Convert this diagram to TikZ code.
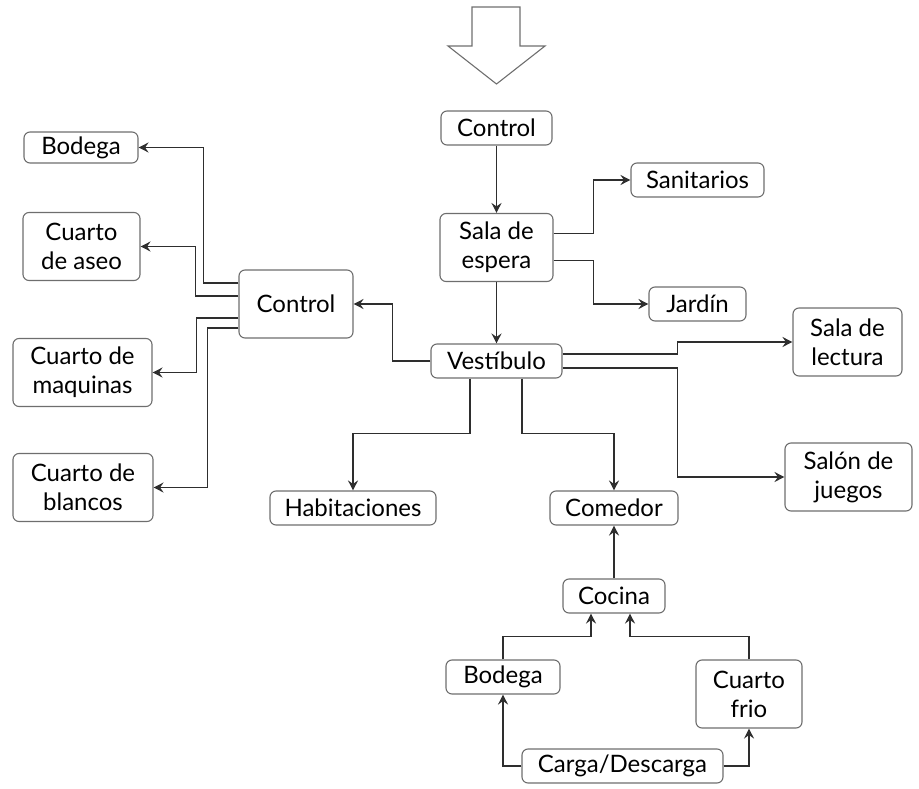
\documentclass[tikz,border=0pt]{standalone}
\usepackage{fontspec}
\setmainfont{Lato}
\usetikzlibrary{arrows.meta, positioning}
\definecolor{boxgray}{HTML}{6E6E6E}
\definecolor{linegray}{HTML}{2E2E2E}
\tikzstyle{room} = [
    rectangle,
    rounded corners=6pt,
    minimum height=34pt,
    inner sep=0pt,
    align=center,
    draw=boxgray,
    line width=1.1pt,
    fill=white,
    font=\fontsize{24}{29}\selectfont
]
\tikzstyle{tall} = [minimum height=68pt]
\tikzstyle{arrow} = [line width=1.5pt, draw=linegray, ->, >={Stealth[length=10pt,width=10pt,inset=3.5pt]}]

\begin{document}
\begin{tikzpicture}[x=1pt, y=-1pt]
\useasboundingbox (0,0) rectangle (919,789);

% Entrance arrow
\draw [boxgray, line width=1.1pt, line join=miter]
    (472,7) -- (520,7) -- (520,46) -- (545,46) -- (496.5,84)
    -- (448,46) -- (472,46) -- cycle;

% Nodes
\node (ctrltop) [room, minimum width=111pt] at (496.5,128) {Control};
\node (espera) [room, tall, minimum width=113pt] at (496.5,247.5) {Sala de\\espera};
\node (sanitarios) [room, minimum width=133pt] at (697.5,180) {Sanitarios};
\node (jardin) [room, minimum width=97pt] at (697.5,304) {Jardín};
\node (vestibulo) [room, minimum width=131pt] at (496.5,361) {Vestíbulo};
\node (lectura) [room, tall, minimum width=109pt] at (847.5,342) {Sala de\\lectura};
\node (juegos) [room, tall, minimum width=127pt] at (848.5,477) {Salón de\\juegos};
\node (ctrl) [room, tall, minimum width=114pt] at (296,304) {Control};
\node (bodegaA) [room, minimum width=114pt, minimum height=31pt] at (81,147.5) {Bodega};
\node (aseo) [room, tall, minimum width=117pt] at (81.5,246.5) {Cuarto\\de aseo};
\node (maquinas) [room, tall, minimum width=139pt] at (82.5,372.5) {Cuarto de\\maquinas};
\node (blancos) [room, tall, minimum width=140pt] at (83,487.5) {Cuarto de\\blancos};
\node (habitaciones) [room, minimum width=166pt] at (353,508) {Habitaciones};
\node (comedor) [room, minimum width=128pt] at (614,508) {Comedor};
\node (cocina) [room, minimum width=102pt] at (614,596) {Cocina};
\node (bodegaB) [room, minimum width=114pt] at (503,677) {Bodega};
\node (frio) [room, tall, minimum width=106pt] at (749,694) {Cuarto\\frio};
\node (carga) [room, minimum width=201pt] at (622.5,766) {Carga/Descarga};

% Arrows
\draw [arrow] (ctrltop) -- (espera);
\draw [arrow] ([yshift=14pt]espera.east) -- ++(40,0) |- (sanitarios);
\draw [arrow] ([yshift=-13pt]espera.east) -- ++(40,0) |- (jardin);
\draw [arrow] (espera) -- (vestibulo);
\draw [arrow] (vestibulo.west) -- ++(-38,0) |- (ctrl);
\draw [arrow] ([yshift=7pt]vestibulo.east) -- ++(115,0) |- (lectura);
\draw [arrow] ([yshift=-7pt]vestibulo.east) -- ++(115,0) |- (juegos);
\draw [arrow] ([xshift=-26.5pt]vestibulo.south) -- ++(0,55) -| (habitaciones);
\draw [arrow] ([xshift=25.5pt]vestibulo.south) -- ++(0,55) -| (comedor);
\draw [arrow] ([yshift=21pt]ctrl.west) -- ++(-35,0) |- (bodegaA);
\draw [arrow] ([yshift=8pt]ctrl.west) -- ++(-43,0) |- (aseo);
\draw [arrow] ([yshift=-14pt]ctrl.west) -- ++(-42,0) |- (maquinas);
\draw [arrow] ([yshift=-24pt]ctrl.west) -- ++(-31,0) |- (blancos);
\draw [arrow] (cocina) -- (comedor);
\draw [arrow] (bodegaB.north) -- ++(0,-23) -| ([xshift=-23pt]cocina.south);
\draw [arrow] (frio.north) -- ++(0,-23) -| ([xshift=16pt]cocina.south);
\draw [arrow] (carga) -| (bodegaB);
\draw [arrow] (carga) -| (frio);

\end{tikzpicture}
\end{document}
